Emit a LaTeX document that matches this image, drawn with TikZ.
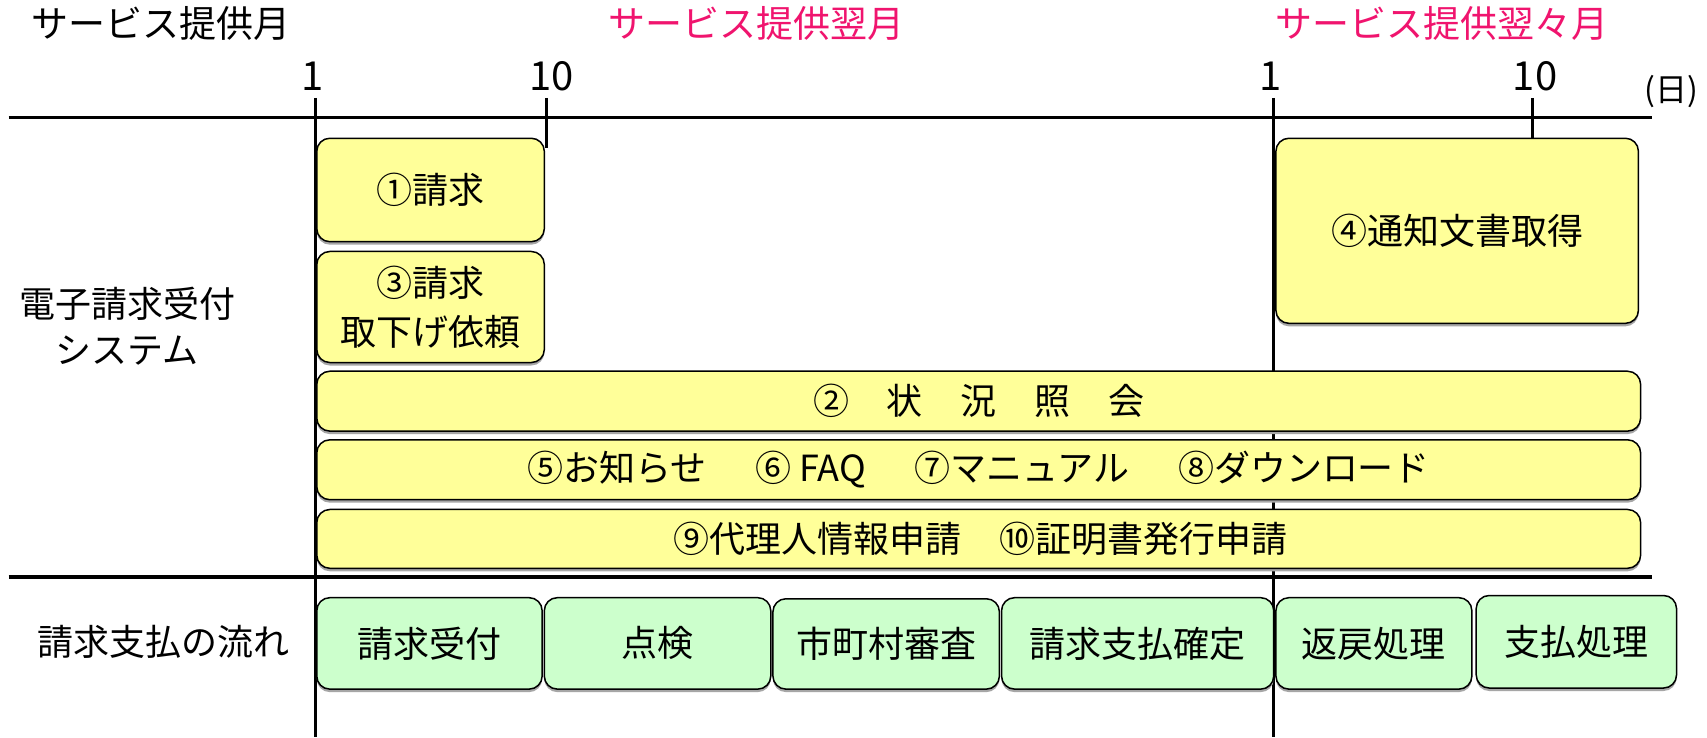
\documentclass[tikz,border=0pt]{standalone}
\usepackage{fontspec}
\setmainfont{Noto Sans CJK JP}
\definecolor{boxyellow}{RGB}{255,255,153}
\definecolor{boxgreen}{RGB}{204,255,204}
\definecolor{pinktext}{RGB}{240,20,110}
\begin{document}
\begin{tikzpicture}[x=1.0887pt,y=-1.0887pt,
  txt/.style={font=\fontsize{36}{43}\selectfont, inner sep=0pt},
  axis/.style={line width=3.3pt},
  shad/.style={preaction={fill=black!35, draw=none, transform canvas={yshift=-3pt}}},
  ybox/.style={draw=black, line width=1.5pt, fill=boxyellow, rounded corners=13pt, shad},
  gbox/.style={draw=black, line width=1.5pt, fill=boxgreen, rounded corners=13pt, shad}]
\useasboundingbox (0,0) rectangle (1568,677);
\fill[white] (0,0) rectangle (1568,677);
% headers
\node[txt, font=\fontsize{37}{43}\selectfont] (h1) at (148,22) {サービス提供月};
\node[txt, font=\fontsize{37}{43}\selectfont, text=pinktext] (h2) at (695,22) {サービス提供翌月};
\node[txt, font=\fontsize{37}{43}\selectfont, text=pinktext] (h3) at (1325,22) {サービス提供翌々月};
\node[txt, font=\fontsize{40}{43}\selectfont] (d1) at (287,70) {1};
\node[txt, font=\fontsize{40}{43}\selectfont] (d10) at (507,70) {10};
\node[txt, font=\fontsize{40}{43}\selectfont] (e1) at (1167,70) {1};
\node[txt, font=\fontsize{40}{43}\selectfont] (e10) at (1410,70) {10};
\node[txt, font=\fontsize{32}{34}\selectfont] (unit) at (1535,84) {(日)};
% axes
\coordinate (hl1) at (8,108);
\coordinate (hr1) at (1517,108);
\coordinate (hl2) at (8,530);
\coordinate (hr2) at (1517,530);
\coordinate (v1t) at (290,90);
\coordinate (v1b) at (290,677);
\coordinate (v2t) at (1170,90);
\coordinate (v2b) at (1170,677);
\coordinate (t1t) at (502,90);
\coordinate (t1b) at (502,136);
\coordinate (t2t) at (1408,90);
\coordinate (t2b) at (1408,136);
\draw[axis] (hl1) -- (hr1);
\draw[axis] (hl2) -- (hr2);
\draw[axis] (v1t) -- (v1b);
\draw[axis] (v2t) -- (v2b);
\draw[axis] (t1t) -- (t1b);
\draw[axis] (t2t) -- (t2b);
% left labels
\node[txt, align=center, font=\fontsize{36}{46}\selectfont] (sys) at (117,300) {電子請求受付\\システム};
\node[txt] (flow) at (150,590) {請求支払の流れ};
% yellow boxes
\draw[ybox] (291,127) rectangle (500,222);
\node[txt] (b1) at (395.5,174.5) {①請求};
\draw[ybox] (291,231) rectangle (500,333);
\node[txt, align=center, font=\fontsize{36}{49}\selectfont] (b3) at (395.5,282) {③請求\\取下げ依頼};
\draw[ybox] (1172,127) rectangle (1505,297);
\node[txt] (b4) at (1338.5,212) {④通知文書取得};
\draw[ybox] (291,341) rectangle (1507,396);
\node[txt] (b2) at (899,368.5) {②\hspace{1.05em}状\hspace{1.05em}況\hspace{1.05em}照\hspace{1.05em}会};
\draw[ybox] (291,404) rectangle (1507,459);
\node[txt] (b5) at (899,431.5) {⑤お知らせ\hspace{1.35em}⑥ FAQ\hspace{1.35em}⑦マニュアル\hspace{1.35em}⑧ダウンロード};
\draw[ybox] (291,468) rectangle (1507,522);
\node[txt] (b9) at (901,495) {⑨代理人情報申請\hspace{1.05em}⑩証明書発行申請};
% green boxes
\draw[gbox] (291,549) rectangle (498,633);
\node[txt] (g1) at (394.5,591) {請求受付};
\draw[gbox] (500,549) rectangle (708,633);
\node[txt] (g2) at (604,591) {点検};
\draw[gbox] (710,550) rectangle (918,633);
\node[txt] (g3) at (814,591) {市町村審査};
\draw[gbox] (920,549) rectangle (1170,633);
\node[txt] (g4) at (1045,591) {請求支払確定};
\draw[gbox] (1172,549) rectangle (1352,633);
\node[txt] (g5) at (1262,591) {返戻処理};
\draw[gbox] (1356,547) rectangle (1540,632);
\node[txt] (g6) at (1448,589.5) {支払処理};
\end{tikzpicture}
\end{document}
